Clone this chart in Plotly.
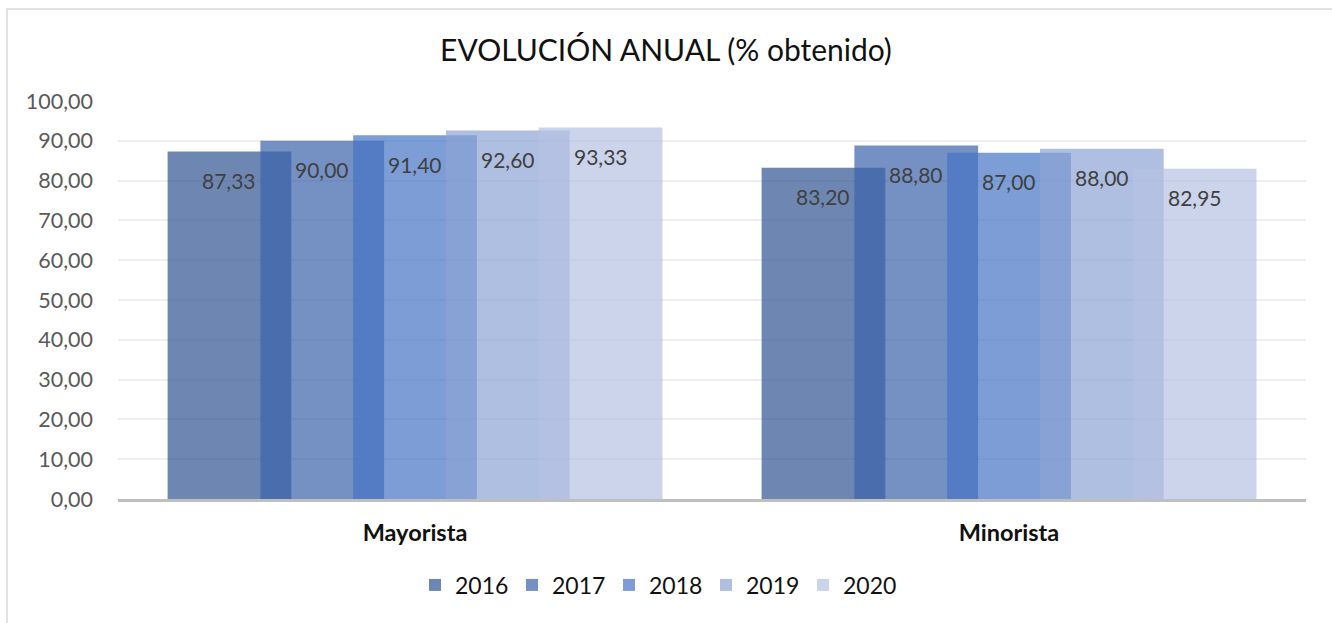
import plotly.graph_objects as go

categories = ["Mayorista", "Minorista"]
years = ["2016", "2017", "2018", "2019", "2020"]
v2016 = [87.33, 83.20]
v2017 = [90.00, 88.80]
v2018 = [91.40, 87.00]
v2019 = [92.60, 88.00]
v2020 = [93.33, 82.95]
series = [v2016, v2017, v2018, v2019, v2020]
y_ticks = list(range(0, 101, 10))

colors = ["rgb(48,84,146)", "rgb(59,99,171)", "rgb(68,115,196)",
          "rgb(141,164,212)", "rgb(182,194,226)"]
OPACITY = 0.7
BAR_W = 0.2083
STEP = 0.1562
START = -0.4165
FONT = "Lato"

fig = go.Figure()
xs = list(range(len(categories)))
annotations = []
for k, (yr, vals) in enumerate(zip(years, series)):
    off = START + k * STEP
    fig.add_trace(go.Bar(
        x=xs, y=vals, name=yr, offset=off, width=BAR_W,
        marker=dict(color=colors[k], line=dict(width=0)),
        opacity=OPACITY,
        hoverinfo="skip",
    ))
    for gi, v in zip(xs, vals):
        annotations.append(dict(
            x=gi + off + BAR_W / 2, y=v, xref="x", yref="y",
            text=f"{v:.2f}".replace(".", ","), showarrow=False,
            yshift=-29, yanchor="middle", xanchor="center",
            font=dict(family=FONT, size=21, color="#404040"),
        ))

fig.update_layout(
    width=1332, height=623,
    margin=dict(l=118, r=26, t=101, b=124),
    paper_bgcolor="white", plot_bgcolor="white",
    barmode="overlay",
    separators=",.",
    title=dict(text="EVOLUCIÓN ANUAL (% obtenido)", x=0.5, xanchor="center",
               y=1 - 50 / 623, yanchor="middle",
               font=dict(family=FONT, size=30, color="#111111")),
    xaxis=dict(range=[-0.5, 1.5], tickvals=xs,
               ticktext=[f"<b>{c}</b>" for c in categories],
               tickfont=dict(family=FONT, size=23.5, color="#111111"),
               showline=True, linecolor="#bfbfbf", linewidth=3,
               showgrid=False, zeroline=False, ticks="",
               ticklabelstandoff=11, automargin=False),
    yaxis=dict(range=[0, 100], tickvals=y_ticks, tickformat=".2f",
               tickfont=dict(family=FONT, size=21.5, color="#595959"),
               showgrid=True, gridcolor="#eeeeee", gridwidth=1.5,
               zeroline=False, showline=False, ticks="",
               ticklabelstandoff=24, automargin=False),
    legend=dict(orientation="h", x=(415 - 118) / 1188, xanchor="left", y=-0.216,
                yanchor="middle", font=dict(family=FONT, size=23, color="#111111"),
                traceorder="normal", itemwidth=30, entrywidth=52),
    annotations=annotations,
    shapes=[dict(type="rect", xref="paper", yref="paper",
                 x0=(7 - 118) / 1188, x1=1.08, y0=-0.5, y1=(499 - 9) / 398,
                 line=dict(color="#d9d9d9", width=1.5), fillcolor="rgba(0,0,0,0)",
                 layer="below")],
)

fig.write_html("out.html", config={"displayModeBar": False},
               post_script="document.body.style.margin='0';document.body.style.overflow='hidden';")
